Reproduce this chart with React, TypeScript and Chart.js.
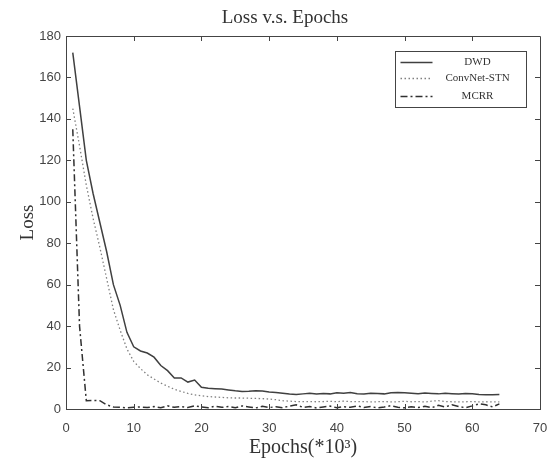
import React, { useEffect, useRef } from "react";
import { Chart, registerables } from "chart.js";

Chart.register(...registerables);

const epochs: number[] = Array.from({ length: 64 }, (_, i) => i + 1);

const dwd: number[] = [
  172, 146, 120, 104, 90, 76, 60, 50, 37, 30,
  28, 27, 25, 21, 18.5, 15, 15, 13, 14, 10.5,
  10, 9.8, 9.6, 9.2, 8.8, 8.5, 8.6, 8.8, 8.7, 8.2,
  8, 7.6, 7.2, 7, 7.3, 7.6, 7.2, 7.5, 7.3, 7.8,
  7.6, 8, 7.4, 7.2, 7.6, 7.5, 7.3, 7.8, 8, 7.8,
  7.6, 7.4, 7.7, 7.5, 7.3, 7.6, 7.4, 7.2, 7.5, 7.3,
  7.0, 6.9, 6.9, 7.0,
];

const convnet: number[] = [
  145, 127, 108, 92, 78, 63, 48, 38, 29, 23,
  19.5, 16.5, 14.5, 12.5, 11, 9.5, 8.5, 7.5, 6.8, 6.4,
  6, 5.8, 5.6, 5.4, 5.3, 5.3, 5.2, 5.1, 5, 4.8,
  4.5, 4, 3.8, 3.6, 3.6, 3.6, 3.5, 3.6, 3.7, 3.5,
  3.8, 3.6, 3.5, 3.6, 3.4, 3.5, 3.6, 3.4, 3.5, 3.7,
  3.5, 3.6, 3.4, 3.8, 4, 3.6, 3.5, 3.4, 3.5, 3.6,
  3.4, 3.5, 3.4, 3.4,
];

const mcrr: number[] = [
  135, 40, 4, 4.2, 4, 2, 1, 0.8, 0.6, 0.8,
  1, 0.7, 1.2, 0.6, 1.5, 0.8, 1.2, 0.7, 1.5, 1,
  0.6, 1.4, 0.8, 1.2, 0.6, 1.5, 1, 0.5, 1.3, 0.7,
  1.1, 0.6, 1.4, 2, 0.8, 1.2, 0.5, 1, 1.4, 0.6,
  1.1, 0.8, 1.5, 0.7, 1.2, 0.5, 1, 1.6, 0.8, 0.6,
  1.1, 0.7, 1.3, 0.6, 1.8, 1, 2, 1.2, 0.6, 1.5,
  2.5, 2, 1, 2.5,
];

const seriesNames: string[] = ["DWD", "ConvNet-STN", "MCRR"];
const xTicks: number[] = [0, 10, 20, 30, 40, 50, 60, 70];
const yTicks: number[] = [0, 20, 40, 60, 80, 100, 120, 140, 160, 180];
const chartTitle = "Loss v.s. Epochs";

const SERIF = "'Liberation Serif', 'Times New Roman', serif";
const SANS = "'Liberation Sans', Arial, sans-serif";
const AXIS = "#444444";

const frame = {
  id: "frame",
  afterDraw(chart: any) {
    const { ctx, chartArea } = chart;
    const { left, right, top, bottom } = chartArea;
    const xs = chart.scales.x;
    const ys = chart.scales.y;
    ctx.save();

    // title
    ctx.fillStyle = "#333333";
    ctx.font = `19px ${SERIF}`;
    ctx.textAlign = "center";
    ctx.textBaseline = "middle";
    ctx.fillText(chartTitle, (left + right) / 2 - 18, top - 18);

    ctx.strokeStyle = AXIS;
    ctx.lineWidth = 1;
    ctx.beginPath();
    ctx.moveTo(left, top + 0.5);
    ctx.lineTo(right + 0.5, top + 0.5);
    ctx.lineTo(right + 0.5, bottom);
    ctx.stroke();
    const tl = 5;
    ctx.beginPath();
    xTicks.forEach((v) => {
      const px = Math.round(xs.getPixelForValue(v)) + 0.5;
      if (v === xTicks[0] || v === xTicks[xTicks.length - 1]) return;
      ctx.moveTo(px, bottom);
      ctx.lineTo(px, bottom - tl);
      ctx.moveTo(px, top);
      ctx.lineTo(px, top + tl);
    });
    yTicks.forEach((v) => {
      const py = Math.round(ys.getPixelForValue(v)) + 0.5;
      if (v === yTicks[0] || v === yTicks[yTicks.length - 1]) return;
      ctx.moveTo(left, py);
      ctx.lineTo(left + tl, py);
      ctx.moveTo(right, py);
      ctx.lineTo(right - tl, py);
    });
    ctx.stroke();

    // legend
    const bw = 131;
    const bh = 56;
    const bx = Math.round(right - 14 - bw) + 0.5;
    const by = Math.round(top + 15) + 0.5;
    ctx.fillStyle = "#ffffff";
    ctx.fillRect(bx, by, bw, bh);
    ctx.strokeStyle = AXIS;
    ctx.lineWidth = 1;
    ctx.setLineDash([]);
    ctx.strokeRect(bx, by, bw, bh);
    const rows = [11, 27, 45];
    chart.data.datasets.forEach((ds: any, i: number) => {
      const y = by + rows[i];
      ctx.save();
      ctx.strokeStyle = ds.borderColor;
      ctx.lineWidth = ds.borderWidth;
      ctx.setLineDash(ds.borderDash || []);
      ctx.beginPath();
      ctx.moveTo(bx + 5, y);
      ctx.lineTo(bx + 37, y);
      ctx.stroke();
      ctx.restore();
      ctx.fillStyle = "#333333";
      ctx.font = `11px ${SERIF}`;
      ctx.textAlign = "center";
      ctx.textBaseline = "middle";
      ctx.fillText(ds.label, bx + 82, y);
    });
    ctx.restore();
  },
};

export default function App() {
  const ref = useRef<HTMLCanvasElement | null>(null);

  useEffect(() => {
    if (!ref.current) return;
    const chart = new Chart(ref.current, {
      type: "line",
      data: {
        labels: epochs,
        datasets: [
          {
            label: seriesNames[0],
            data: epochs.map((x, i) => ({ x, y: dwd[i] })),
            borderColor: "#404040",
            borderWidth: 1.5,
            pointRadius: 0,
            fill: false,
            tension: 0,
          },
          {
            label: seriesNames[1],
            data: epochs.map((x, i) => ({ x, y: convnet[i] })),
            borderColor: "#808080",
            borderWidth: 1.3,
            borderDash: [1.5, 2.5],
            pointRadius: 0,
            fill: false,
            tension: 0,
          },
          {
            label: seriesNames[2],
            data: epochs.map((x, i) => ({ x, y: mcrr[i] })),
            borderColor: "#303030",
            borderWidth: 1.5,
            borderDash: [7, 3, 2, 3],
            pointRadius: 0,
            fill: false,
            tension: 0,
          },
        ],
      },
      options: {
        animation: false,
        responsive: false,
        devicePixelRatio: 1,
        layout: { padding: { left: 0, right: 14, top: 36, bottom: 0 } },
        plugins: {
          legend: { display: false },
          tooltip: { enabled: false },
          title: { display: false },
        },
        scales: {
          x: {
            type: "linear",
            min: 0,
            max: 70,
            afterBuildTicks: (s: any) => {
              s.ticks = xTicks.map((v) => ({ value: v }));
            },
            afterFit: (s: any) => {
              s.height = 53;
              s.paddingLeft = 0;
              s.paddingRight = 0;
            },
            grid: { display: false, drawTicks: false, tickLength: 0 },
            border: { display: true, color: AXIS, width: 1 },
            ticks: {
              color: "#444444",
              font: { family: SANS, size: 13 },
              padding: 12,
              maxRotation: 0,
            },
            title: {
              display: true,
              text: "Epochs(*10³)",
              color: "#333333",
              font: { family: SERIF, size: 20, weight: "normal" },
              padding: { top: 2, bottom: 2 },
            },
          },
          y: {
            type: "linear",
            min: 0,
            max: 180,
            afterBuildTicks: (s: any) => {
              s.ticks = yTicks.map((v) => ({ value: v }));
            },
            afterFit: (s: any) => {
              s.width = 66;
              s.paddingTop = 0;
              s.paddingBottom = 0;
            },
            grid: { display: false, drawTicks: false, tickLength: 0 },
            border: { display: true, color: AXIS, width: 1 },
            ticks: {
              color: "#444444",
              font: { family: SANS, size: 13 },
              padding: 5,
            },
            title: {
              display: true,
              text: "Loss",
              color: "#333333",
              font: { family: SERIF, size: 19, weight: "normal" },
              padding: { top: 17, bottom: 0 },
            },
          },
        },
      },
      plugins: [frame],
    } as any);
    return () => chart.destroy();
  }, []);

  return (
    <div style={{ position: "absolute", left: 0, top: 0, width: 554, height: 462, background: "#fff" }}>
      <canvas ref={ref} width={554} height={462} style={{ display: "block" }} />
    </div>
  );
}
